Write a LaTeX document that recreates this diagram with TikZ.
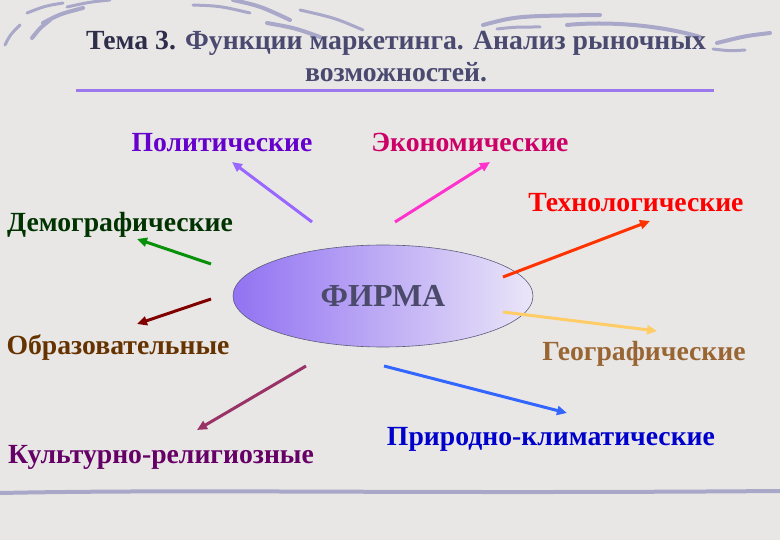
\documentclass[tikz,border=0pt]{standalone}
\usepackage{fontspec}
\setmainfont{Liberation Serif}
\usetikzlibrary{arrows.meta, positioning, shapes.geometric, calc}
\definecolor{cbg}{HTML}{E8E7E6}
\definecolor{cswoosh}{HTML}{A9A8C9}
\definecolor{ctitle}{HTML}{4A4970}
\definecolor{ctema}{HTML}{2E2D4A}
\definecolor{crule}{HTML}{9B78EC}
\definecolor{cfirm}{HTML}{4B4A6B}
\definecolor{cfirmL}{HTML}{9272F2}
\definecolor{cfirmR}{HTML}{EAE6F8}
% label colours
\definecolor{cpol}{HTML}{6600CC}
\definecolor{ceco}{HTML}{CC0066}
\definecolor{ctech}{HTML}{FF0000}
\definecolor{cdem}{HTML}{003300}
\definecolor{cedu}{HTML}{663300}
\definecolor{cgeo}{HTML}{996633}
\definecolor{ccult}{HTML}{660066}
\definecolor{cnat}{HTML}{0000CC}
% arrow colours
\definecolor{apol}{HTML}{9966FF}
\definecolor{aeco}{HTML}{FF33CC}
\definecolor{atech}{HTML}{FF3300}
\definecolor{adem}{HTML}{089108}
\definecolor{aedu}{HTML}{800000}
\definecolor{ageo}{HTML}{FFCC66}
\definecolor{acult}{HTML}{993366}
\definecolor{anat}{HTML}{3366FF}
\tikzset{
  every picture/.style={font=\bfseries, line width=1pt},
  lab/.style={text=#1, font=\fontsize{27.7}{30}\selectfont\bfseries, anchor=base, inner sep=0pt},
  ttl/.style={text=ctitle, font=\fontsize{27.7}{30}\selectfont\bfseries, anchor=base, inner sep=0pt},
  arrow/.style={draw=#1, line width=3pt, -{Triangle[length=10pt, width=9pt]}},
  swoosh/.style={draw=cswoosh, line width=#1, line cap=round},
}

\begin{document}
\begin{tikzpicture}[x=1pt, y=-1pt]
  \useasboundingbox (0,0) rectangle (780,540);
  \fill[cbg] (0,0) rectangle (780,540);
  % top swooshes
  \draw[swoosh=3pt] (5,45) .. controls (10,35) .. (20,25);
  \draw[swoosh=4pt] (32,38) .. controls (40,28) .. (50,20);
  \draw[swoosh=3pt] (27,13) .. controls (45,6) .. (63,3);
  \draw[swoosh=4pt] (43,23) .. controls (60,14) .. (83,8);
  \draw[swoosh=3pt] (67,7) .. controls (90,2) .. (110,0);
  \draw[swoosh=3pt] (193,5) .. controls (220,6) .. (250,13);
  \draw[swoosh=4pt] (233,0) .. controls (260,6) .. (290,20);
  \draw[swoosh=4pt] (267,23) .. controls (295,28) .. (320,37);
  \draw[swoosh=3pt] (300,10) .. controls (335,18) .. (363,30);
  \draw[swoosh=4pt] (483,25) .. controls (517,16) .. (600,15);
  \draw[swoosh=3pt] (497,29) .. controls (515,27) .. (540,27);
  \draw[swoosh=4pt] (567,25) .. controls (607,21) and (660,25) .. (700,37);
  \draw[swoosh=4pt] (717,43) .. controls (745,36) .. (770,33);
  \draw[swoosh=3pt] (713,49) .. controls (730,51) .. (745,50);
  % title
  \node[ttl] (ttl1) at (396,50) {\textcolor{ctema}{Тема 3.} Функции маркетинга. Анализ рыночных};
  \node[ttl] (ttl2) at (396,82) {возможностей.};
  \draw[crule, line width=3pt] (76,91) -- (714,91);
  % firm
  \node[ellipse, draw=cfirm!90, line width=0.6pt, minimum width=300, minimum height=102, inner sep=0pt,
    left color=cfirmL, right color=cfirmR, text=cfirm, font=\fontsize{32}{36}\selectfont\bfseries] (firm) at (383,296) {ФИРМА};
  % factors
  \node[lab=cpol] (pol) at (222,152) {Политические};
  \node[lab=ceco] (eco) at (470,152) {Экономические};
  \node[lab=ctech] (tech) at (636,212) {Технологические};
  \node[lab=cdem] (dem) at (120,232) {Демографические};
  \node[lab=cedu] (edu) at (118,355) {Образовательные};
  \node[lab=cgeo] (geo) at (644,360) {Географические};
  \node[lab=ccult] (cult) at (161,463) {Культурно-религиозные};
  \node[lab=cnat] (nat) at (551,445) {Природно-климатические};
  % arrow ends
  \coordinate (pol-s) at (312,222);  \coordinate (pol-e) at (232,162);
  \coordinate (eco-s) at (395,222);  \coordinate (eco-e) at (490,162);
  \coordinate (tech-s) at (503,277); \coordinate (tech-e) at (650,221);
  \coordinate (dem-s) at (211,264);  \coordinate (dem-e) at (137,239);
  \coordinate (edu-s) at (211,299);  \coordinate (edu-e) at (137,324);
  \coordinate (geo-s) at (503,312);  \coordinate (geo-e) at (657,331);
  \coordinate (cult-s) at (306,366); \coordinate (cult-e) at (197,430);
  \coordinate (nat-s) at (384,366);  \coordinate (nat-e) at (567,413);
  \foreach \n in {pol,eco,tech,dem,edu,geo,cult,nat}
    \draw[arrow=a\n] (\n-s) -- (\n-e);
  % bottom line
  \draw[swoosh=4pt, line cap=butt] (0,493) .. controls (200,489) and (400,494) .. (780,491);
\end{tikzpicture}
\end{document}
